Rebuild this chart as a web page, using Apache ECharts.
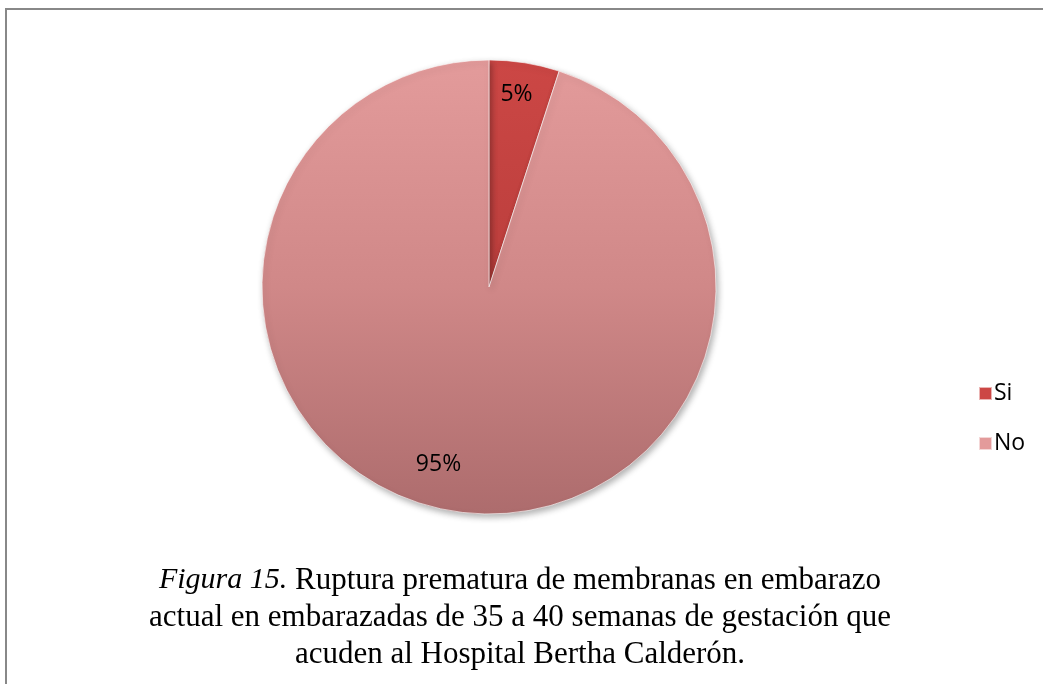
<!DOCTYPE html>
<html>
<head>
    <meta charset="utf-8">
    <title>Figura 15</title>
    <script src="https://cdn.jsdelivr.net/npm/echarts@6/dist/echarts.min.js"></script>
</head>
<body style="margin:0;background:#fff;">
    <div id="main" style="width:1043px;height:684px;"></div>
    <script type="text/javascript">
        // datos
        var categorias = ['Si', 'No'];
        var valores = [5, 95];
        var etiquetas = ['5%', '95%'];

        var colorSi = new echarts.graphic.LinearGradient(0, 60, 0, 514, [
            { offset: 0, color: '#cc4745' },
            { offset: 1, color: '#a93533' }
        ], true);
        var colorNo = new echarts.graphic.LinearGradient(0, 60, 0, 514, [
            { offset: 0, color: '#e39b9b' },
            { offset: 0.5, color: '#d08888' },
            { offset: 1, color: '#ad6c6d' }
        ], true);

        var datos = categorias.map(function (c, i) {
            return { name: c, value: valores[i] };
        });
        var datosEtiquetas = categorias.map(function (c, i) {
            return { name: c, value: valores[i], label: { offset: i === 1 ? [-20, -15] : [-3, 0] } };
        });

        var myChart = echarts.init(document.getElementById('main'));
        myChart.setOption({
            backgroundColor: '#fff',
            animation: false,
            title: {
                left: 515,
                top: 557,
                textAlign: 'center',
                text: '{i|Figura 15.} Ruptura prematura de membranas en embarazo\nactual en embarazadas de 35 a 40 semanas de gestación que\nacuden al Hospital Bertha Calderón.',
                textStyle: {
                    fontFamily: 'Liberation Serif',
                    fontSize: 31,
                    fontWeight: 'normal',
                    color: '#000',
                    lineHeight: 37,
                    rich: {
                        i: { fontFamily: 'Liberation Serif', fontStyle: 'italic', fontSize: 30, color: '#000', lineHeight: 37 }
                    }
                }
            },
            legend: {
                orient: 'vertical',
                left: 978,
                top: 382,
                padding: 0,
                itemWidth: 13,
                itemHeight: 13,
                itemGap: 27,
                icon: 'rect',
                data: categorias,
                textStyle: { fontFamily: 'Open Sans', fontSize: 23, color: '#000', padding: [0, 0, 0, -3] }
            },
            graphic: [
                { type: 'line', shape: { x1: 5, y1: 9, x2: 1043, y2: 9 }, style: { stroke: '#888', lineWidth: 2 } },
                { type: 'line', shape: { x1: 6, y1: 9, x2: 6, y2: 684 }, style: { stroke: '#888', lineWidth: 2 } }
            ],
            series: [
                {
                    type: 'pie',
                    center: [489, 287],
                    radius: [0, 227],
                    startAngle: 90,
                    clockwise: true,
                    data: datos,
                    label: { show: false },
                    labelLine: { show: false },
                    itemStyle: {
                        color: function (p) { return p.dataIndex === 0 ? colorSi : colorNo; },
                        borderColor: 'rgba(255,255,255,0.6)',
                        borderWidth: 1,
                        shadowBlur: 6,
                        shadowOffsetX: 2,
                        shadowOffsetY: 3,
                        shadowColor: 'rgba(0,0,0,0.3)'
                    },
                    emphasis: { disabled: true }
                },
                {
                    // serie auxiliar solo para colocar las etiquetas
                    type: 'pie',
                    center: [489, 287],
                    radius: [0, 384],
                    startAngle: 90,
                    clockwise: true,
                    silent: true,
                    data: datosEtiquetas,
                    itemStyle: { color: 'rgba(0,0,0,0)' },
                    label: {
                        show: true,
                        position: 'inside',
                        formatter: function (p) { return etiquetas[p.dataIndex]; },
                        fontFamily: 'Open Sans',
                        fontSize: 23,
                        color: '#000'
                    },
                    labelLine: { show: false },
                    emphasis: { disabled: true }
                }
            ]
        });
    </script>
</body>
</html>
